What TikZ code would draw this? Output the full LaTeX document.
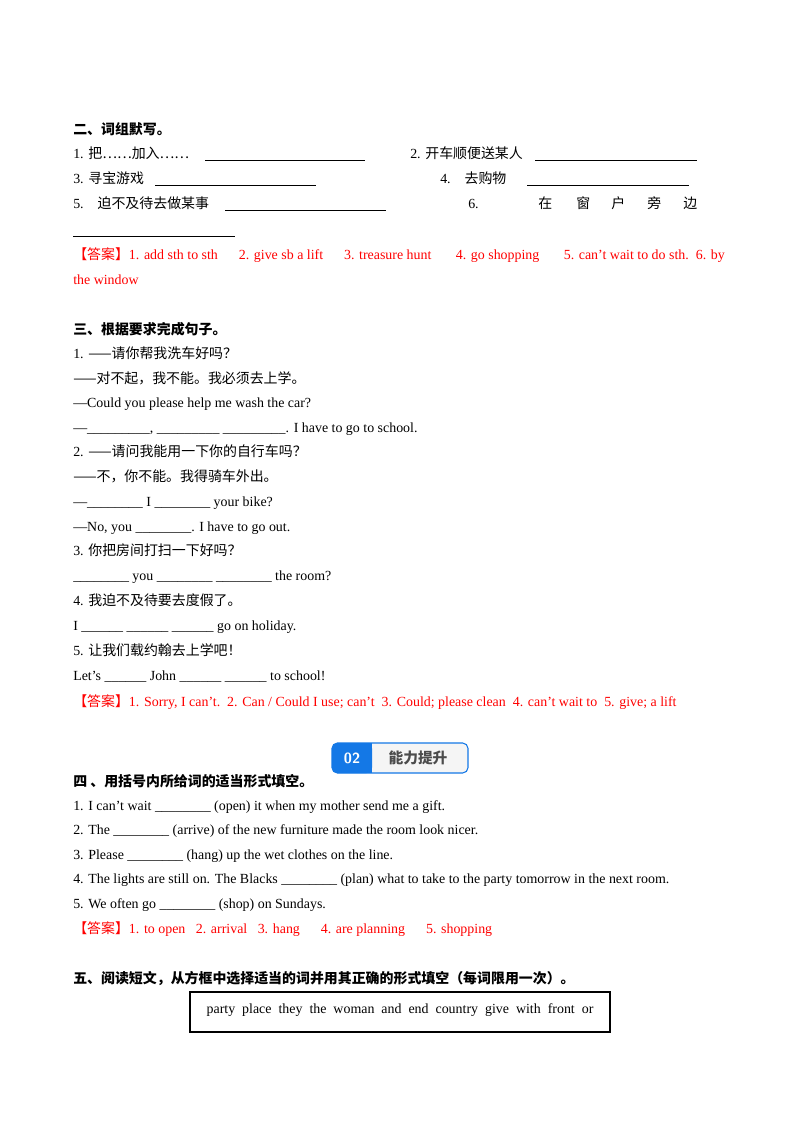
\documentclass[tikz,border=0pt]{standalone}
\usepackage{fontspec}
\setmainfont{Liberation Serif}
\newfontfamily\cjk{Noto Sans CJK SC}
\newcommand*{\zh}[1]{{\cjk #1}}
\definecolor{ansred}{RGB}{255,0,0}
\definecolor{badgeblue}{RGB}{20,120,230}
\begin{document}
\begin{tikzpicture}[x=0.02625cm,y=-0.02625cm,
  txt/.style={anchor=west,inner sep=0pt,text height=8pt,text depth=2pt,font=\fontsize{10.4}{12}\selectfont},
  head/.style={txt,font=\fontsize{10.4}{12}\selectfont\bfseries},
  ans/.style={txt,text=ansred},
  blank/.style={line width=0.5pt}]
  \useasboundingbox[fill=white] (0,0) rectangle (800,1132);
  % part two
  \node[head] (h2) at (73,130) {\zh{\textbf{二、词组默写。}}};
  \node[txt] (p1) at (73,154) {1. \zh{把……加入……}};
  \draw[blank] (205,160) -- (365,160);
  \node[txt] (p2) at (410,154) {2. \zh{开车顺便送某人}};
  \draw[blank] (535,160) -- (697,160);
  \node[txt] (p3) at (73,179) {3. \zh{寻宝游戏}};
  \draw[blank] (155,185) -- (316,185);
  \node[txt] (p4) at (440,179) {4.\quad\zh{去购物}};
  \draw[blank] (527,185) -- (689,185);
  \node[txt] (p5) at (73,204) {5.\quad\zh{迫不及待去做某事}};
  \draw[blank] (225,210) -- (386,210);
  \node[txt] (p6) at (468,204) {6.};
  \foreach \c/\x in {在/538,窗/576,户/611,旁/647,边/683}{
    \node[txt] at (\x,204) {\zh{\c}};
  }
  \draw[blank] (73,236) -- (235,236);
  \node[ans] (a2) at (73,255) {\zh{【答案】}1. add sth to sth\quad\ \ 2. give sb a lift\quad\ \ 3. treasure hunt\quad\ \ \ 4. go shopping\quad\ \ \ 5. can’t wait to do sth.\ \ 6. by};
  \node[ans] (a2b) at (73,280) {the window};
  % part three
  \node[head] (h3) at (73,330) {\zh{\textbf{三、根据要求完成句子。}}};
  \node[txt] at (73,354) {1. \zh{——请你帮我洗车好吗？}};
  \node[txt] at (73,379) {\zh{——对不起，我不能。我必须去上学。}};
  \node[txt] at (73,403) {—Could you please help me wash the car?};
  \node[txt] at (73,428) {—\_\_\_\_\_\_\_\_\_, \_\_\_\_\_\_\_\_\_ \_\_\_\_\_\_\_\_\_. I have to go to school.};
  \node[txt] at (73,452) {2. \zh{——请问我能用一下你的自行车吗？}};
  \node[txt] at (73,477) {\zh{——不，你不能。我得骑车外出。}};
  \node[txt] at (73,502) {—\_\_\_\_\_\_\_\_ I \_\_\_\_\_\_\_\_ your bike?};
  \node[txt] at (73,527) {—No, you \_\_\_\_\_\_\_\_. I have to go out.};
  \node[txt] at (73,551) {3. \zh{你把房间打扫一下好吗？}};
  \node[txt] at (73,576) {\_\_\_\_\_\_\_\_ you \_\_\_\_\_\_\_\_ \_\_\_\_\_\_\_\_ the room?};
  \node[txt] at (73,601) {4. \zh{我迫不及待要去度假了。}};
  \node[txt] at (73,626) {I \_\_\_\_\_\_ \_\_\_\_\_\_ \_\_\_\_\_\_ go on holiday.};
  \node[txt] at (73,651) {5. \zh{让我们载约翰去上学吧！}};
  \node[txt] at (73,676) {Let’s \_\_\_\_\_\_ John \_\_\_\_\_\_ \_\_\_\_\_\_ to school!};
  \node[ans] (a3) at (73,702) {\zh{【答案】}1. Sorry, I can’t.\ \ 2. Can / Could I use; can’t\ \ 3. Could; please clean\ \ 4. can’t wait to\ \ 5. give; a lift};
  % badge
  \draw[badgeblue,fill=gray!8,rounded corners=4pt,line width=0.8pt] (332,743) rectangle (468,773);
  \fill[badgeblue,rounded corners=4pt] (332,743) rectangle (372,773);
  \fill[badgeblue] (360,743) rectangle (372,773);
  \node[font=\fontsize{11}{13}\selectfont\bfseries\sffamily,text=white] (num) at (352,758) {02};
  \node[font=\fontsize{11}{13}\selectfont\cjk\bfseries,text=black!70] (ttl) at (418,758) {能力提升};
  % part four
  \node[head] (h4) at (73,782) {\zh{\textbf{四\ 、用括号内所给词的适当形式填空。}}};
  \node[txt] at (73,806) {1. I can’t wait \_\_\_\_\_\_\_\_ (open) it when my mother send me a gift.};
  \node[txt] at (73,830) {2. The \_\_\_\_\_\_\_\_ (arrive) of the new furniture made the room look nicer.};
  \node[txt] at (73,855) {3. Please \_\_\_\_\_\_\_\_ (hang) up the wet clothes on the line.};
  \node[txt] at (73,879) {4. The lights are still on. The Blacks \_\_\_\_\_\_\_\_ (plan) what to take to the party tomorrow in the next room.};
  \node[txt] at (73,904) {5. We often go \_\_\_\_\_\_\_\_ (shop) on Sundays.};
  \node[ans] (a4) at (73,929) {\zh{【答案】}1. to open\ \ \ 2. arrival\ \ \ 3. hang\quad\ \ 4. are planning\quad\ \ 5. shopping};
  % part five
  \node[head] (h5) at (73,979) {\zh{\textbf{五、阅读短文，从方框中选择适当的词并用其正确的形式填空（每词限用一次）。}}};
  \draw[line width=0.8pt] (190,992) rectangle (610,1032);
  \node[font=\fontsize{10.4}{12}\selectfont] (words) at (400,1010) {party\ \ place\ \ they\ \ the\ \ woman\ \ and\ \ end\ \ country\ \ give\ \ with\ \ front\ \ or};
\end{tikzpicture}
\end{document}
